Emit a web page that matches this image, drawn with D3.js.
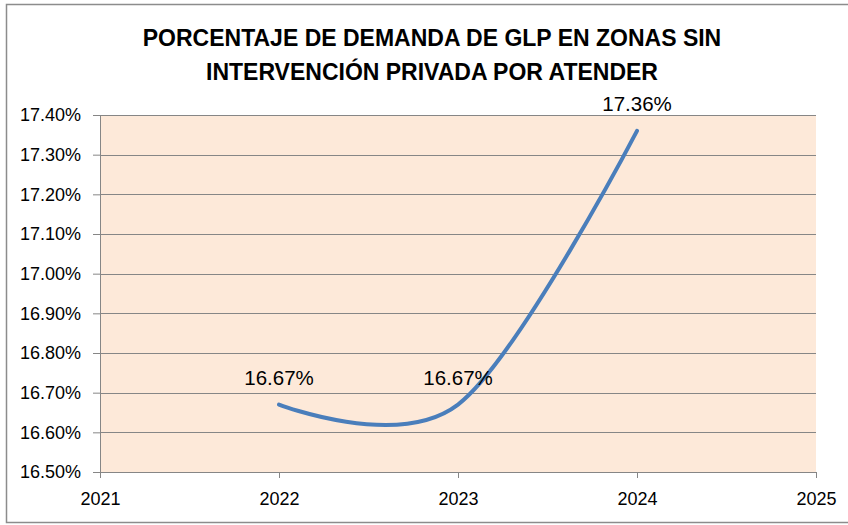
<!DOCTYPE html>
<meta charset="utf-8">
<style>
body { margin: 0; background: #fff; }
svg { font-family: "Liberation Sans", Arial, sans-serif; }
.axis path { display: none; }
.axis text { font-size: 18px; fill: #000; }
.axis line { stroke: #868686; }
.grid line { stroke: #868686; stroke-width: 1; }
</style>
<svg width="848" height="525"></svg>
<script src="https://d3js.org/d3.v7.min.js"></script>
<script>

var years = [2022, 2023, 2024];
var values = [16.67, 16.67, 17.36];
var labels = ["16.67%", "16.67%", "17.36%"];
var yTicks = [16.5, 16.6, 16.7, 16.8, 16.9, 17.0, 17.1, 17.2, 17.3, 17.4];
var xTicks = [2021, 2022, 2023, 2024, 2025];
var titleLines = ["PORCENTAJE DE DEMANDA DE GLP EN ZONAS SIN", "INTERVENCIÓN PRIVADA POR ATENDER"];

var svg = d3.select("svg"),
    margin = {top: 115, right: 32, bottom: 53, left: 100},
    width = 848 - margin.left - margin.right,
    height = 525 - margin.top - margin.bottom;

// outer chart border
svg.append("rect")
    .attr("x", 6.5).attr("y", 4.5)
    .attr("width", 848).attr("height", 518)
    .attr("fill", "#fff")
    .attr("stroke", "#8c8c8c")
    .attr("stroke-width", 1.5);

svg.selectAll("text.title")
    .data(titleLines)
    .enter().append("text")
    .attr("class", "title")
    .attr("x", 432)
    .attr("y", function(d, i) { return 46 + i * 34; })
    .attr("text-anchor", "middle")
    .attr("font-size", "23px")
    .attr("font-weight", "bold")
    .text(function(d) { return d; });

var x = d3.scaleLinear().domain([2021, 2025]).range([0, width]);
var y = d3.scaleLinear().domain([16.5, 17.4]).range([height, 0]);

var g = svg.append("g")
    .attr("transform", "translate(" + margin.left + "," + margin.top + ")");

g.append("rect")
    .attr("width", width)
    .attr("height", height)
    .attr("fill", "#fde9d9");

g.append("g")
    .attr("class", "grid")
    .selectAll("line")
    .data(yTicks)
    .enter().append("line")
    .attr("x1", 0).attr("x2", width)
    .attr("y1", function(d) { return Math.round(y(d)) + 0.5; })
    .attr("y2", function(d) { return Math.round(y(d)) + 0.5; });

g.append("line")
    .attr("x1", 0.5).attr("x2", 0.5)
    .attr("y1", 0).attr("y2", height)
    .attr("stroke", "#868686");

g.append("g")
    .attr("class", "axis")
    .call(d3.axisLeft(y).tickValues(yTicks).tickSize(7).tickPadding(12)
        .tickFormat(function(d) { return d3.format(".2f")(d) + "%"; }));

g.append("g")
    .attr("class", "axis")
    .attr("transform", "translate(0," + height + ")")
    .call(d3.axisBottom(x).tickValues(xTicks).tickSize(6).tickPadding(14)
        .tickFormat(d3.format("d")));

var line = d3.line()
    .x(function(d, i) { return x(years[i]); })
    .y(function(d) { return y(d); })
    .curve(d3.curveCardinal.tension(0));

g.append("path")
    .datum(values)
    .attr("d", line)
    .attr("fill", "none")
    .attr("stroke", "#4a7ebb")
    .attr("stroke-width", 4)
    .attr("stroke-linecap", "round");

g.selectAll("text.lbl")
    .data(values)
    .enter().append("text")
    .attr("class", "lbl")
    .attr("x", function(d, i) { return x(years[i]); })
    .attr("y", function(d) { return y(d) - 20; })
    .attr("text-anchor", "middle")
    .attr("font-size", "20.5px")
    .text(function(d, i) { return labels[i]; });

</script>
